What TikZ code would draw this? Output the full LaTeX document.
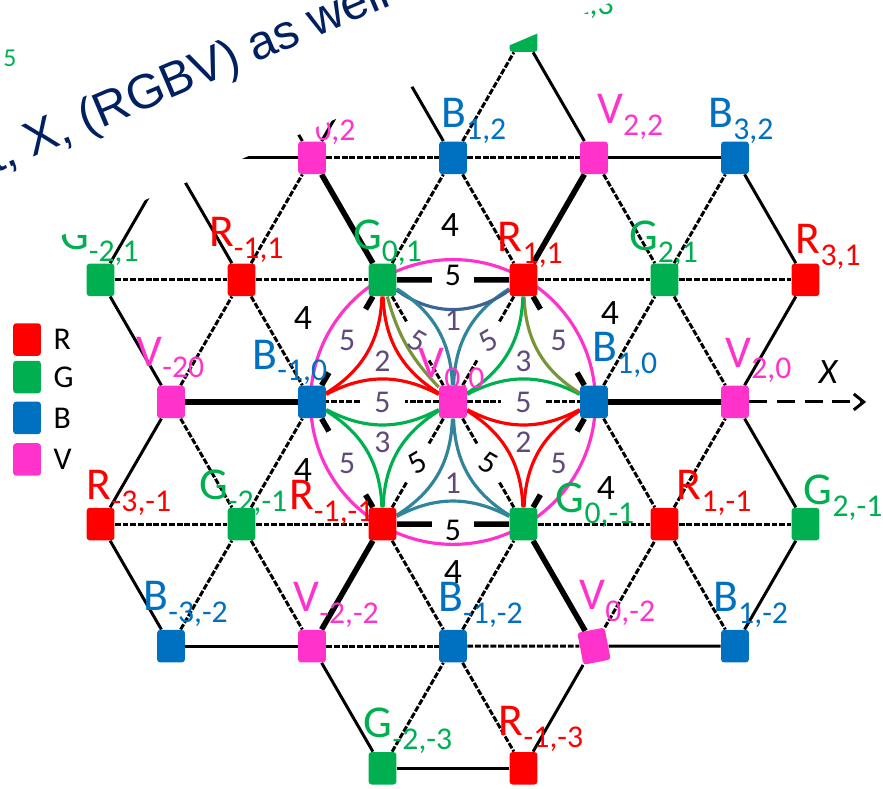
\documentclass[tikz,border=0pt]{standalone}
\usepackage{fontspec}
\setmainfont{Carlito}
\newfontfamily\titlefont{Liberation Sans}
\usetikzlibrary{positioning,calc,arrows.meta,backgrounds}

\definecolor{colR}{RGB}{255,0,0}
\definecolor{colG}{RGB}{0,176,80}
\definecolor{colB}{RGB}{0,112,192}
\definecolor{colV}{RGB}{255,51,204}
\definecolor{titleblue}{RGB}{0,32,96}
\definecolor{jpurple}{RGB}{96,74,123}
\definecolor{jblue}{RGB}{62,100,148}
\definecolor{jteal}{RGB}{49,133,155}
\definecolor{jolive}{RGB}{122,148,58}

\newcommand{\px}{0.5027pt}
\newcommand{\rowh}{0.866}
\newcommand{\sitename}[2]{{\fontsize{23}{23}\selectfont #1}\raisebox{-6pt}{\fontsize{16}{16}\selectfont #2}}

\tikzset{
  site/.style={rectangle, rounded corners=1.5pt, minimum width=14pt, minimum height=16.4pt, inner sep=0pt},
  sitelabel/.style={anchor=base west, inner sep=0pt},
  rimbond/.style={line width=1.5pt},
  dashbond/.style={line width=1.5pt, dash pattern=on 3pt off 0.9pt},
  longbond/.style={line width=2.8pt},
  hexbond/.style={line width=2.8pt},
  spokebond/.style={line width=1.5pt, dash pattern=on 3pt off 0.9pt},
  triarc/.style={line width=1.6pt, bend left=#1},
  triarc/.default=28,
  coupling/.style={text=jpurple, inner sep=0pt, font=\fontsize{16}{16}\selectfont},
  hexnum/.style={inner sep=0pt, font=\fontsize{16}{16}\selectfont},
  fournum/.style={inner sep=0pt, font=\fontsize{18}{18}\selectfont}
}

\begin{document}
\begin{tikzpicture}[x=2.5cm,y=2.5cm]
\useasboundingbox (-3.213,-2.745) rectangle (3.050,2.851);

\foreach \n/\col/\X/\rw/\ltr/\idx/\dx/\dy/\tilt in {
  G23/colG/0.5/3/G/{2,3}/21/33/0,
  V02/colV/-1/2/V/{0,2}/-23/29/0,
  B12/colB/0/2/B/{1,2}/-12/30/0,
  V22/colV/1/2/V/{2,2}/3/34/0,
  B32/colB/2/2/B/{3,2}/-27/30/0,
  Gm21/colG/-2.5/1/G/{-2,1}/-41/30/0,
  Rm11/colR/-1.5/1/R/{-1,1}/-33/33/0,
  G01/colG/-0.5/1/G/{0,1}/-30/30/0,
  R11/colR/0.5/1/R/{1,1}/-26/28/0,
  G21/colG/1.5/1/G/{2,1}/-36/29/0,
  R31/colR/2.5/1/R/{3,1}/-10/26/0,
  Vm20/colV/-2/0/V/{-20}/-35/36/0,
  Bm10/colB/-1/0/B/{-1,0}/-60/33/0,
  V00/colV/0/0/V/{0,0}/-35/25/0,
  B10/colB/1/0/B/{1,0}/-2/41/0,
  V20/colV/2/0/V/{2,0}/-10/35/0,
  Rm3m1/colR/-2.5/-1/R/{-3,-1}/-14/25/0,
  Gm2m1/colG/-1.5/-1/G/{-2,-1}/-43/25/0,
  Rm1m1/colR/-0.5/-1/R/{-1,-1}/-94/15/0,
  G0m1/colG/0.5/-1/G/{0,-1}/32/12/0,
  R1m1/colR/1.5/-1/R/{1,-1}/12/25/0,
  G2m1/colG/2.5/-1/G/{2,-1}/-2/20/0,
  Bm3m2/colB/-2/-2/B/{-3,-2}/-28/36/0,
  Vm2m2/colV/-1/-2/V/{-2,-2}/-19/35/0,
  Bm1m2/colB/0/-2/B/{-1,-2}/-15/35/0,
  V0m2/colV/1/-2/V/{0,-2}/-15/37/11,
  B1m2/colB/2/-2/B/{1,-2}/-22/35/0,
  Gm2m3/colG/-0.5/-3/G/{-2,-3}/-19/31/0,
  Rm1m3/colR/0.5/-3/R/{-1,-3}/-25/33/0}{
  \node[site, fill=\col, rotate=\tilt] (\n) at ({\X},{\rw*\rowh}) {};
  \node[sitelabel, text=\col] (l\n) at ([xshift=\dx*\px, yshift=\dy*\px]\n.center) {\sitename{\ltr}{\idx}};
}
\coordinate (hidA) at (-2,{2*\rowh});
\coordinate (hidB) at (-1.5,{3*\rowh});
\coordinate (hidC) at (-0.5,{3*\rowh});
\coordinate (xend) at (2.93,0);

\begin{scope}[on background layer]
\foreach \ea/\eb in {hidA/Gm21, hidA/Rm11, hidA/V02, hidB/V02, hidC/V02, hidC/B12,
  G23/V22, V22/B32, B32/R31, R31/V20, V20/G2m1, G2m1/B1m2, B1m2/V0m2, V0m2/Rm1m3,
  Rm1m3/Gm2m3, Gm2m3/Vm2m2, Vm2m2/Bm3m2, Bm3m2/Rm3m1, Rm3m1/Vm20, Vm20/Gm21}
  \draw[rimbond] (\ea) -- (\eb);
\foreach \ea/\eb in {Gm21/Rm11, Rm11/G01, R11/G21, G21/R31, V02/B12, B12/V22,
  Rm3m1/Gm2m1, Gm2m1/Rm1m1, G0m1/R1m1, R1m1/G2m1, Vm2m2/Bm1m2, Bm1m2/V0m2,
  Rm11/V02, G01/B12, G21/B32, B12/G23, Vm20/Rm11, B10/G21, Gm2m1/Bm10, R1m1/V20,
  Bm3m2/Gm2m1, Bm1m2/G0m1, V0m2/R1m1, Gm2m3/Bm1m2,
  B12/R11, V22/G21, Rm11/Bm10, G21/V20, Vm20/Gm2m1, B10/R1m1, Gm2m1/Vm2m2,
  Rm1m1/Bm1m2, R1m1/B1m2, Bm1m2/Rm1m3}
  \draw[dashbond] (\ea) -- (\eb);
\foreach \ea/\eb in {V02/G01, V22/R11, B10/V20, G0m1/V0m2, Rm1m1/Vm2m2, Vm20/Bm10}
  \draw[longbond] (\ea) -- (\eb);
\foreach \ea/\eb/\ef in {G01/R11/0.35, Rm1m1/G0m1/0.35, G01/Bm10/0.24, Bm10/Rm1m1/0.24, R11/B10/0.24, B10/G0m1/0.24}{
  \draw[hexbond] (\ea) -- ($(\ea)!\ef!(\eb)$);
  \draw[hexbond] ($(\eb)!\ef!(\ea)$) -- (\eb);
}
\foreach \eb in {G01, R11, B10, G0m1, Rm1m1, Bm10}{
  \draw[spokebond] (V00) -- ($(V00)!0.34!(\eb)$);
  \draw[spokebond] ($(V00)!0.66!(\eb)$) -- (\eb);
}
\draw[rimbond, dash pattern=on 9pt off 5pt, -{Straight Barb[length=5pt,width=8pt]}] (V20) -- (xend);

\draw[triarc, jteal] (V00) to (R11);
\draw[triarc=36, jblue] (R11) to (G01);
\draw[triarc, jteal] (G01) to (V00);
\draw[triarc=14, jolive] (V00) to (G01);
\draw[triarc, colR] (V00) to (G01);
\draw[triarc, colR] (G01) to (Bm10);
\draw[triarc, colR] (Bm10) to (V00);
\draw[triarc, colG] (V00) to (Bm10);
\draw[triarc, colG] (Bm10) to (Rm1m1);
\draw[triarc, colG] (Rm1m1) to (V00);
\draw[triarc, jteal] (V00) to (Rm1m1);
\draw[triarc, jteal] (Rm1m1) to (G0m1);
\draw[triarc, jteal] (G0m1) to (V00);
\draw[triarc, colR] (V00) to (G0m1);
\draw[triarc, colR] (G0m1) to (B10);
\draw[triarc, colR] (B10) to (V00);
\draw[triarc, colG] (V00) to (B10);
\draw[triarc, jolive] (B10) to (R11);
\draw[triarc, colG] (R11) to (V00);
\draw[colV, line width=1.6pt] (V00.center) circle (1.01);
\end{scope}

\node[coupling] (j1) at ($(G01)!0.5!(Bm10)$) {5};
\node[coupling] (j2) at (barycentric cs:G01=1,Bm10=1,V00=1) {2};
\node[coupling] (j3) at ($(Bm10)!0.5!(V00)$) {5};
\node[coupling] (j4) at (barycentric cs:Bm10=1,V00=1,Rm1m1=1) {3};
\node[coupling] (j5) at ($(Bm10)!0.5!(Rm1m1)$) {5};
\node[coupling, rotate=-30] (j6) at ($(G01)!0.5!(V00)$) {5};
\node[coupling] (j7) at (barycentric cs:G01=1,R11=1,V00=1) {1};
\node[coupling, rotate=30] (j8) at ($(R11)!0.5!(V00)$) {5};
\node[coupling] (j9) at ($(R11)!0.5!(B10)$) {5};
\node[coupling] (j10) at (barycentric cs:R11=1,V00=1,B10=1) {3};
\node[coupling] (j11) at ($(V00)!0.5!(B10)$) {5};
\node[coupling] (j12) at (barycentric cs:V00=1,B10=1,G0m1=1) {2};
\node[coupling] (j13) at ($(B10)!0.5!(G0m1)$) {5};
\node[coupling] (j14) at (barycentric cs:V00=1,Rm1m1=1,G0m1=1) {1};
\node[hexnum, yshift=2pt] (k1) at ($(G01)!0.5!(R11)$) {5};
\node[hexnum, yshift=-3pt] (k2) at ($(Rm1m1)!0.5!(G0m1)$) {5};
\node[hexnum, rotate=30] (k3) at ($(V00)!0.5!(Rm1m1)$) {5};
\node[hexnum, rotate=-30] (k4) at ($(V00)!0.5!(G0m1)$) {5};
\foreach \p [count=\i] in {(-0.021,1.255), (-1.064,0.596), (-1.064,-0.482), (0,-1.206), (1.085,-0.610), (1.113,0.631)}
  \node[fournum] (four\i) at \p {4};

\node[site, fill=colR] (legR) at (-3.021,0.443) {};
\node[site, fill=colG] (legG) at (-3.021,0.177) {};
\node[site, fill=colB] (legB) at (-3.021,-0.113) {};
\node[site, fill=colV] (legV) at (-3.021,-0.408) {};
\foreach \k in {R,G,B,V}
  \node[right=6pt of leg\k, inner sep=0pt, font=\fontsize{16}{16}\selectfont] (legtxt\k) {\k};

\node[inner sep=0pt, font=\fontsize{18}{18}\selectfont\itshape] (xlbl) at (2.66,0.213) {X};

\coordinate (maskpt) at (-2.184,1.433);
\fill[white] (maskpt) -- ++(23:8) -- ++(113:4) -- ++(203:12) -- ++(293:4) -- cycle;
\node[rotate=23, anchor=base west, inner sep=0pt, text=titleblue, font=\titlefont\fontsize{24.5}{24.5}\selectfont] (title) at (-3.251,1.618) {t, X, (RGBV) as well as};
\node[anchor=base west, inner sep=0pt, text=colG, font=\fontsize{13}{13}\selectfont] (stray) at (-3.191,2.376) {5};
\end{tikzpicture}
\end{document}
